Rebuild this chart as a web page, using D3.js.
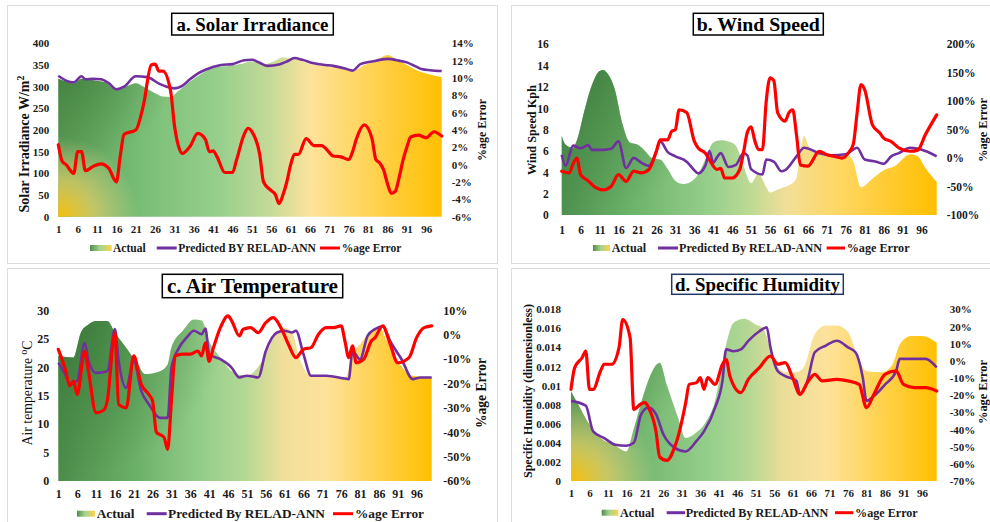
<!DOCTYPE html>
<html>
<head>
<meta charset="utf-8">
<script src="https://cdn.jsdelivr.net/npm/d3@7"></script>
<style>
  body { margin: 0; background: #fff; }
  svg { display: block; font-family: "Liberation Serif", "Times New Roman", serif; }
</style>
</head>
<body>
<svg id="chart" width="990" height="522"></svg>
<script>
// Actual vs predicted (RELAD-ANN) with %age error, 4 weather variables
// Values as [day, value]

const tickDays = [1, 6, 11, 16, 21, 26, 31, 36, 41, 46, 51, 56, 61, 66, 71, 76, 81, 86, 91, 96];

// a. Solar irradiance
const solarTicks = [0, 50, 100, 150, 200, 250, 300, 350, 400];
const solarErrTicks = [-6, -4, -2, 0, 2, 4, 6, 8, 10, 12, 14];
const solarActual = [[1,318],[3,312],[5,308],[7,318],[10,315],[13,310],[16,293],[19,302],[21,308],[23,300],[26,285],[28,277],[30,276],[32,290],[35,312],[38,330],[41,343],[45,348],[48,352],[51,358],[54,352],[57,360],[59,368],[61,365],[63,362],[66,352],[70,348],[74,344],[77,336],[80,350],[83,360],[86,373],[88,365],[91,350],[94,336],[97,328],[100,322]];
const solarPred = [[1,325],[3,314],[5,310],[7,324],[8,317],[10,318],[12,317],[14,308],[16,294],[18,300],[21,324],[24,322],[27,307],[29,300],[31,296],[33,302],[35,317],[37,330],[39,339],[43,350],[46,352],[49,361],[51,362],[53,355],[55,348],[58,351],[60,358],[62,366],[64,362],[67,354],[70,350],[72,348],[75,342],[77,337],[79,352],[82,358],[86,364],[89,360],[91,356],[93,348],[95,340],[97,338],[100,336]];
const solarErr = [[1,2.3],[2,0.4],[3,0],[5,-1.0],[6,1.5],[7,1.5],[8,-0.7],[10,-0.2],[12,0.1],[14,-0.4],[16,-2.0],[17,1.0],[18,3.5],[21,4.0],[23,6.9],[25,11.5],[26,11.6],[27,10.8],[28,10.8],[30,8.5],[31,4.5],[32,2.2],[33,1.3],[35,2.1],[37,3.6],[39,2.9],[40,1.5],[41,1.6],[42,0.9],[44,-0.9],[46,-0.9],[47,0.5],[49,3.5],[50,4.2],[51,3.8],[53,1.2],[54,-2.0],[56,-3.0],[57,-3.4],[58,-4.5],[59,-3.5],[60,-2.0],[61,0],[62,1.2],[63,1.2],[65,3.0],[67,2.2],[69,2.2],[70,1.9],[72,1.0],[74,0.9],[76,0.6],[77,1.5],[78,3.0],[80,4.6],[82,3.0],[83,0.6],[84,0.2],[85,-0.6],[86,-2.2],[87,-3.3],[88,-3.1],[89,-1.5],[90,0.5],[91,2.0],[92,3.2],[94,3.4],[96,3.1],[98,3.8],[100,3.3]];

// b. Wind speed
const windTicks = [0, 2, 4, 6, 8, 10, 12, 14, 16];
const windErrTicks = [-100, -50, 0, 50, 100, 150, 200];
const windActual = [[1,7.4],[2,6.6],[4,6.3],[5,7.0],[7,9.8],[9,12.2],[11,13.5],[12,13.6],[13,13.3],[15,11.8],[17,8.6],[19,6.8],[21,6.6],[23,6.0],[25,5.3],[27,5.2],[29,4.3],[31,3.2],[33,2.9],[35,3.1],[37,3.8],[39,5.3],[41,6.8],[43,7.0],[45,6.9],[47,6.5],[49,4.6],[51,3.0],[53,3.9],[55,2.6],[56,2.1],[58,2.4],[61,2.8],[62,3.0],[63,3.5],[64,6.0],[65,7.4],[66,6.6],[67,6.0],[71,5.6],[77,5.5],[78,5.0],[80,2.6],[83,3.4],[86,4.2],[89,4.6],[93,5.7],[95,5.5],[97,4.4],[100,3.1]];
const windPred = [[1,5.65],[2,4.6],[4,6.5],[6,6.25],[8,6.55],[9,6.1],[12,6.1],[14,6.2],[16,6.9],[18,4.4],[20,5.35],[22,4.9],[24,4.6],[26,6.0],[27,6.9],[29,5.9],[31,5.5],[34,5.0],[36,4.2],[37,3.9],[39,4.7],[40,6.0],[41,4.9],[42,5.4],[43,5.8],[45,4.5],[47,4.7],[49,5.8],[50,5.6],[51,4.3],[54,3.8],[55,5.2],[57,5.0],[59,4.1],[60,4.2],[63,5.5],[65,6.3],[69,5.8],[72,5.6],[76,5.7],[79,6.3],[81,5.2],[84,5.0],[86,4.8],[88,5.5],[90,5.8],[93,6.3],[97,6.0],[100,5.5]];
const windErr = [[1,-23],[3,-26],[4,-10],[5,0],[6,-29],[8,-40],[10,-52],[12,-56],[14,-50],[16,-29],[18,-41],[20,-23],[22,-26],[24,-20],[26,12],[27,32],[29,32],[30,47],[31,50],[32,85],[34,80],[36,30],[37,18],[39,8],[40,-3],[42,-20],[43,-18],[44,-35],[46,-35],[48,-20],[49,10],[50,45],[51,55],[52,30],[53,15],[54,15],[55,100],[56,141],[57,136],[58,80],[60,65],[61,80],[62,85],[63,40],[64,-12],[66,-14],[69,12],[71,6],[73,3],[75,0],[77,12],[78,25],[79,80],[80,129],[81,120],[83,59],[85,44],[86,35],[88,29],[90,18],[93,12],[95,14],[97,41],[100,76]];

// c. Air temperature
const tempTicks = [0, 5, 10, 15, 20, 25, 30];
const tempErrTicks = [-60, -50, -40, -30, -20, -10, 0, 10];
const tempActual = [[1,22.0],[5,21.7],[7,26.1],[9,27.5],[11,28.1],[14,28.1],[16,26.1],[19,23.4],[22,20.6],[24,18.8],[28,19.3],[30,20.5],[31,23.5],[34,26.4],[37,28.4],[39,28.2],[41,24.6],[44,21.7],[47,19.3],[51,18.5],[55,21.0],[59,26.1],[61,26.9],[63,26.1],[65,21.5],[68,18.5],[74,18.5],[77,17.9],[79,22.3],[81,24.0],[84,26.4],[86,27.2],[88,24.8],[91,21.1],[95,18.5],[100,18.2]];
const tempPred = [[1,20.8],[3,18.5],[4,17.0],[6,17.6],[8,24.3],[9,21.1],[11,19.0],[14,19.3],[16,26.7],[17,21.1],[19,16.4],[21,21.1],[23,15.8],[25,13.5],[28,11.1],[30,11.1],[31,19.9],[33,23.4],[35,25.2],[37,26.4],[39,25.8],[40,26.8],[41,22.3],[44,21.4],[47,19.9],[49,18.2],[51,18.5],[54,18.2],[56,22.8],[59,26.1],[61,26.4],[63,26.1],[64,26.4],[66,22.3],[68,18.5],[72,18.5],[77,18.0],[78,17.9],[79,22.8],[81,21.4],[83,25.5],[85,26.7],[87,27.2],[89,24.6],[92,21.4],[95,17.9],[97,18.2],[100,18.2]];
const tempErr = [[1,-6],[3,-15],[4,-21],[5,-19],[6,-24.5],[8,-6.7],[9,-15],[11,-32],[13,-31],[14,-27],[16,0.8],[17,-28.6],[19,-30],[21,-8.7],[23,-20.4],[25,-24.5],[26,-27.2],[27,-40],[29,-42],[30,-47],[31,-27],[32,-8.7],[34,-8],[36,-8],[38,-6.7],[39,-8.7],[40,-3.3],[41,-11],[42,-6],[44,3],[46,7.7],[47,5.6],[49,-0.5],[50,2.2],[52,2.9],[54,0.8],[56,4.9],[58,7],[60,2.9],[62,-3.9],[64,-9.4],[66,-6],[68,-5.3],[70,0.2],[72,2.9],[74,2.9],[76,3.6],[77,-2.6],[78,-9.4],[79,-4.6],[80,-11.5],[82,-10],[84,-2.6],[85,-1.2],[87,3.6],[89,-3.9],[91,-11.5],[94,-9.4],[96,-1.2],[98,2.9],[100,3.6]];

// d. Specific humidity
const humidTicks = [0, 0.002, 0.004, 0.006, 0.008, 0.01, 0.012, 0.014, 0.016, 0.018];
const humidErrTicks = [-70, -60, -50, -40, -30, -20, -10, 0, 10, 20, 30];
const humidActual = [[1,0.0094],[3,0.0080],[6,0.0059],[9,0.0045],[13,0.0037],[16,0.0031],[18,0.0055],[21,0.0095],[23,0.0115],[25,0.0124],[27,0.0100],[30,0.0066],[32,0.0045],[35,0.0051],[37,0.0059],[40,0.0084],[43,0.0143],[45,0.0166],[48,0.0170],[51,0.0164],[53,0.0160],[56,0.0126],[59,0.0114],[62,0.0114],[64,0.0119],[67,0.0154],[70,0.0163],[73,0.0163],[76,0.0156],[79,0.0126],[81,0.0115],[85,0.0114],[88,0.0122],[90,0.0143],[93,0.0152],[96,0.0152],[100,0.0145]];
const humidPred = [[1,0.0084],[5,0.0079],[7,0.0052],[10,0.0045],[13,0.0038],[16,0.0037],[18,0.0040],[20,0.0070],[22,0.0077],[24,0.0070],[26,0.0049],[29,0.0035],[32,0.0031],[35,0.0042],[37,0.0052],[40,0.0077],[42,0.0105],[43,0.0138],[45,0.0136],[47,0.0138],[49,0.0147],[52,0.0157],[54,0.0161],[55,0.0140],[57,0.0115],[59,0.0110],[62,0.0105],[63,0.0091],[65,0.0105],[67,0.0135],[70,0.0142],[73,0.0147],[76,0.0140],[78,0.0135],[80,0.0108],[81,0.0084],[83,0.0089],[86,0.0101],[89,0.0115],[90,0.0128],[94,0.0128],[97,0.0128],[100,0.0119]];
const humidErr = [[1,-16.6],[2,-4],[4,1.8],[5,5.7],[6,-16.6],[7,-16.6],[9,-5.9],[10,-2],[12,-2],[14,7.7],[15,24],[17,13.5],[18,-28.3],[20,-25],[21,-24.4],[22,-27.3],[24,-41],[25,-56],[27,-58],[29,-50.6],[30,-44],[32,-25],[33,-13.7],[35,-12.7],[36,-9.8],[37,-16.6],[38,-9.8],[40,-13.7],[42,-2],[43,0.9],[44,-8.8],[47,-18.5],[49,-10.8],[52,-4],[55,2.8],[57,-2],[59,-1],[61,-9.8],[63,-19.5],[65,-12.7],[67,-7.9],[69,-11.7],[73,-10.8],[76,-11.7],[79,-13.7],[81,-27.3],[83,-19.5],[86,-7.9],[89,-5.9],[91,-13.7],[94,-15.6],[97,-15.6],[100,-17.6]];

const PURPLE = '#7030a0';
const RED = '#ff0000';

const svg = d3.select('#chart');
const defs = svg.append('defs');

// legend swatch for "Actual"
const swatchGrad = defs.append('linearGradient').attr('id', 'swatch-grad');
swatchGrad.append('stop').attr('offset', '0%').attr('stop-color', '#4f8f4a');
swatchGrad.append('stop').attr('offset', '45%').attr('stop-color', '#a6d38f');
swatchGrad.append('stop').attr('offset', '100%').attr('stop-color', '#ffd24d');

// scale a text's font size so that it spans the given width, returns the size
function fitText(sel, target) {
    const fs = parseFloat(sel.style('font-size'));
    const len = sel.node().getComputedTextLength();
    const size = len > 0 ? fs * target / len : fs;
    sel.style('font-size', size.toFixed(2) + 'px');
    return size;
}

const panels = [
    {
        id: 'a', title: 'a. Solar Irradiance', titleBox: [171.7, 13.3, 333.3, 35], titleW: 152, boxColor: '#000',
        frame: [7, 5, 490, 258],
        left: 58.3, right: 441.7, top: 43.3, bottom: 216.7,
        leftDomain: [0, 400], rightDomain: [-6, 14],
        leftTicks: solarTicks, rightTicks: solarErrTicks, leftFmt: d => d,
        leftGap: 9, rightGap: 10, xLabelY: 230, tickFont: 11,
        actual: solarActual, pred: solarPred, err: solarErr,
        yTitle: { text: 'Solar Irradiance W/m', sup: '2', after: '', x: 25, y: 144, len: 137, bold: true },
        rTitle: { x: 486, y: 130, len: 62 },
        stops: [[0,'#5a9a55'],[0.22,'#79be76'],[0.42,'#97cf8d'],[0.55,'#c3da98'],[0.66,'#fde39b'],[0.82,'#ffd250'],[1,'#ffc000']],
        darkR: 125, yellowR: 80,
        legendY: 248, legend: { sw: [90, 111.7], actual: 113, pl: [156.7, 176.7], pt: [178.3, 137.7], rl: [320, 340], rt: 341.7 },
        predLabel: 'Predicted BY RELAD-ANN'
    },
    {
        id: 'b', title: 'b. Wind Speed', titleBox: [693.3, 13.3, 823.3, 35], titleW: 123, boxColor: '#000',
        frame: [511, 5, 490, 258],
        left: 561.7, right: 936.7, top: 44.3, bottom: 215,
        leftDomain: [0, 16], rightDomain: [-100, 200],
        leftTicks: windTicks, rightTicks: windErrTicks, leftFmt: d => d,
        leftGap: 13, rightGap: 10, xLabelY: 230, tickFont: 11.5,
        actual: windActual, pred: windPred, err: windErr,
        yTitle: { text: 'Wind Speed Kph', sup: '', after: '', x: 532, y: 130, len: 90, bold: true },
        rTitle: { x: 986.5, y: 130, len: 64 },
        stops: [[0,'#4f9150'],[0.2,'#6fb56c'],[0.4,'#98cf8c'],[0.5,'#bcd994'],[0.6,'#f2df98'],[0.75,'#ffd660'],[1,'#ffbf00']],
        darkR: 175, yellowR: 0,
        legendY: 248, legend: { sw: [593, 610], actual: 611.7, pl: [658, 678], pt: [679, 143], rl: [826.7, 845], rt: 846.7 },
        predLabel: 'Predicted By RELAD-ANN'
    },
    {
        id: 'c', title: 'c. Air Temperature', titleBox: [162.3, 274.3, 342.7, 297.7], titleW: 171, boxColor: '#000',
        frame: [7, 268, 490, 262],
        left: 58.3, right: 431.7, top: 310.3, bottom: 481,
        leftDomain: [0, 30], rightDomain: [-60, 10],
        leftTicks: tempTicks, rightTicks: tempErrTicks, leftFmt: d => d,
        leftGap: 9, rightGap: 11.5, xLabelY: 494, tickFont: 12,
        actual: tempActual, pred: tempPred, err: tempErr,
        yTitle: { text: 'Air temperature ', sup: 'o', after: 'C', x: 28, y: 393, len: 105, bold: false },
        rTitle: { x: 486, y: 393, len: 70 },
        stops: [[0,'#4c8c4b'],[0.2,'#6aaf66'],[0.38,'#93cd8a'],[0.5,'#b3d894'],[0.6,'#efdf9a'],[0.72,'#fde29a'],[0.86,'#ffd04a'],[1,'#ffc000']],
        darkR: 170, yellowR: 0,
        legendY: 513.7, legend: { sw: [77, 95], actual: 96.7, pl: [146.7, 166.7], pt: [168, 157], rl: [333, 353], rt: 355 },
        predLabel: 'Predicted By RELAD-ANN'
    },
    {
        id: 'd', title: 'd. Specific Humidity', titleBox: [671.7, 274.3, 843.3, 294.3], titleW: 165, boxColor: '#1f3864',
        frame: [511, 268, 490, 262],
        left: 571, right: 936.7, top: 309.3, bottom: 481,
        leftDomain: [0, 0.018], rightDomain: [-70, 30],
        leftTicks: humidTicks, rightTicks: humidErrTicks, leftFmt: d => String(d),
        leftGap: 10, rightGap: 13, xLabelY: 494, tickFont: 11,
        actual: humidActual, pred: humidPred, err: humidErr,
        yTitle: { text: 'Specific Humidity (dimensionless)', sup: '', after: '', x: 528, y: 391, len: 174, bold: true },
        rTitle: { x: 986.5, y: 392, len: 64 },
        stops: [[0,'#5f9e5a'],[0.2,'#75b871'],[0.38,'#96cf8c'],[0.48,'#b2d793'],[0.58,'#eadd98'],[0.7,'#fde29a'],[0.85,'#ffd24d'],[1,'#ffc000']],
        darkR: 140, yellowR: 85,
        legendY: 512.7, legend: { sw: [601.7, 618.3], actual: 620, pl: [666.7, 685], pt: [685.7, 142.6], rl: [835, 853.3], rt: 855 },
        predLabel: 'Predicted By RELAD-ANN'
    }
];

function drawPanel(p) {
    const g = svg.append('g').attr('class', 'panel-' + p.id);

    // light frame around each sub-figure
    g.append('rect')
        .attr('x', p.frame[0] + 0.5).attr('y', p.frame[1] + 0.5)
        .attr('width', p.frame[2]).attr('height', p.frame[3])
        .attr('fill', '#fff').attr('stroke', '#dcdcdc').attr('stroke-width', 1);

    const x = d3.scaleLinear().domain([1, 100]).range([p.left, p.right]);
    const yL = d3.scaleLinear().domain(p.leftDomain).range([p.bottom, p.top]);
    const yR = d3.scaleLinear().domain(p.rightDomain).range([p.bottom, p.top]);

    // gradients for the "Actual" area
    const lin = defs.append('linearGradient').attr('id', 'lin-' + p.id)
        .attr('gradientUnits', 'userSpaceOnUse')
        .attr('x1', p.left).attr('x2', p.right).attr('y1', 0).attr('y2', 0);
    p.stops.forEach(s => lin.append('stop').attr('offset', s[0]).attr('stop-color', s[1]));

    const dark = defs.append('radialGradient').attr('id', 'dark-' + p.id)
        .attr('gradientUnits', 'userSpaceOnUse')
        .attr('cx', p.left).attr('cy', p.top).attr('r', p.darkR);
    dark.append('stop').attr('offset', '0%').attr('stop-color', '#2f6a2f').attr('stop-opacity', 0.75);
    dark.append('stop').attr('offset', '55%').attr('stop-color', '#3a7a38').attr('stop-opacity', 0.4);
    dark.append('stop').attr('offset', '100%').attr('stop-color', '#3a7a38').attr('stop-opacity', 0);

    const area = d3.area()
        .x(d => x(d[0]))
        .y0(p.bottom)
        .y1(d => yL(d[1]))
        .curve(d3.curveMonotoneX);

    g.append('path').datum(p.actual).attr('d', area).attr('fill', `url(#lin-${p.id})`);
    g.append('path').datum(p.actual).attr('d', area).attr('fill', `url(#dark-${p.id})`);

    if (p.yellowR > 0) {
        const yel = defs.append('radialGradient').attr('id', 'yel-' + p.id)
            .attr('gradientUnits', 'userSpaceOnUse')
            .attr('cx', p.left).attr('cy', p.bottom).attr('r', p.yellowR);
        yel.append('stop').attr('offset', '0%').attr('stop-color', '#ffc000').attr('stop-opacity', 0.95);
        yel.append('stop').attr('offset', '45%').attr('stop-color', '#ffd966').attr('stop-opacity', 0.6);
        yel.append('stop').attr('offset', '100%').attr('stop-color', '#fde9a0').attr('stop-opacity', 0);
        g.append('path').datum(p.actual).attr('d', area).attr('fill', `url(#yel-${p.id})`);
    }

    // predicted (left axis) and error (right axis) lines
    const predLine = d3.line().x(d => x(d[0])).y(d => yL(d[1])).curve(d3.curveMonotoneX);
    const errLine = d3.line().x(d => x(d[0])).y(d => yR(d[1])).curve(d3.curveMonotoneX);

    g.append('path').datum(p.pred).attr('d', predLine)
        .attr('fill', 'none').attr('stroke', PURPLE).attr('stroke-width', 2.6)
        .attr('stroke-linejoin', 'round');
    g.append('path').datum(p.err).attr('d', errLine)
        .attr('fill', 'none').attr('stroke', RED).attr('stroke-width', 3.2)
        .attr('stroke-linejoin', 'round').attr('stroke-linecap', 'round');

    // axes (labels only, no lines)
    const styleAxis = sel => {
        sel.select('.domain').remove();
        sel.selectAll('line').remove();
        sel.selectAll('text')
            .style('font-family', '"Liberation Serif", serif')
            .style('font-weight', 'bold')
            .style('font-size', p.tickFont + 'px')
            .style('fill', '#1a1a1a');
    };

    g.append('g').attr('transform', `translate(${p.left},0)`)
        .call(d3.axisLeft(yL).tickValues(p.leftTicks).tickSize(0).tickPadding(p.leftGap).tickFormat(p.leftFmt))
        .call(styleAxis);

    g.append('g').attr('transform', `translate(${p.right},0)`)
        .call(d3.axisRight(yR).tickValues(p.rightTicks).tickSize(0).tickPadding(p.rightGap).tickFormat(d => d + '%'))
        .call(styleAxis);

    g.append('g').attr('transform', `translate(0,${p.xLabelY - 4.5})`)
        .call(d3.axisBottom(x).tickValues(tickDays).tickSize(0).tickPadding(0).tickFormat(d => d))
        .call(styleAxis);

    // axis titles
    const yt = g.append('text')
        .attr('transform', `translate(${p.yTitle.x + 4},${p.yTitle.y}) rotate(-90)`)
        .attr('text-anchor', 'middle')
        .style('font-size', '13px')
        .style('font-weight', p.yTitle.bold ? 'bold' : 'normal')
        .style('fill', '#111')
        .text(p.yTitle.text);
    if (p.yTitle.sup) {
        yt.append('tspan').attr('baseline-shift', 'super').style('font-size', '70%').text(p.yTitle.sup);
    }
    if (p.yTitle.after) yt.append('tspan').text(p.yTitle.after);
    fitText(yt, p.yTitle.len);

    const rt = g.append('text')
        .attr('transform', `translate(${p.rTitle.x},${p.rTitle.y}) rotate(-90)`)
        .attr('text-anchor', 'middle')
        .style('font-size', '12px')
        .style('font-weight', 'bold')
        .style('fill', '#111')
        .text('%age Error');
    fitText(rt, p.rTitle.len);

    // boxed panel title
    const [bx0, by0, bx1, by1] = p.titleBox;
    g.append('rect')
        .attr('x', bx0).attr('y', by0).attr('width', bx1 - bx0).attr('height', by1 - by0)
        .attr('fill', '#fff').attr('stroke', p.boxColor).attr('stroke-width', 1.5);
    const tt = g.append('text')
        .attr('x', (bx0 + bx1) / 2).attr('y', (by0 + by1) / 2)
        .attr('dy', '0.34em')
        .attr('text-anchor', 'middle')
        .style('font-size', '20px')
        .style('font-weight', 'bold')
        .style('fill', '#000')
        .text(p.title);
    fitText(tt, p.titleW);

    // legend
    const L = p.legend;
    const ly = p.legendY;
    g.append('rect')
        .attr('x', L.sw[0]).attr('y', ly - 3).attr('width', L.sw[1] - L.sw[0]).attr('height', 6)
        .attr('fill', 'url(#swatch-grad)');
    g.append('line')
        .attr('x1', L.pl[0]).attr('x2', L.pl[1]).attr('y1', ly).attr('y2', ly)
        .attr('stroke', PURPLE).attr('stroke-width', 3);
    g.append('line')
        .attr('x1', L.rl[0]).attr('x2', L.rl[1]).attr('y1', ly).attr('y2', ly)
        .attr('stroke', RED).attr('stroke-width', 3);

    const legendText = (xPos, label) => g.append('text')
        .attr('x', xPos).attr('y', ly).attr('dy', '0.35em')
        .style('font-size', '13px')
        .style('font-weight', 'bold')
        .style('fill', '#1a1a1a')
        .text(label);

    // size the legend from its longest label, then use that size for all three
    const size = fitText(legendText(L.pt[0], p.predLabel), L.pt[1]);
    legendText(L.actual, 'Actual').style('font-size', size.toFixed(2) + 'px');
    legendText(L.rt, '%age Error').style('font-size', size.toFixed(2) + 'px');
}

panels.forEach(drawPanel);
</script>
</body>
</html>
